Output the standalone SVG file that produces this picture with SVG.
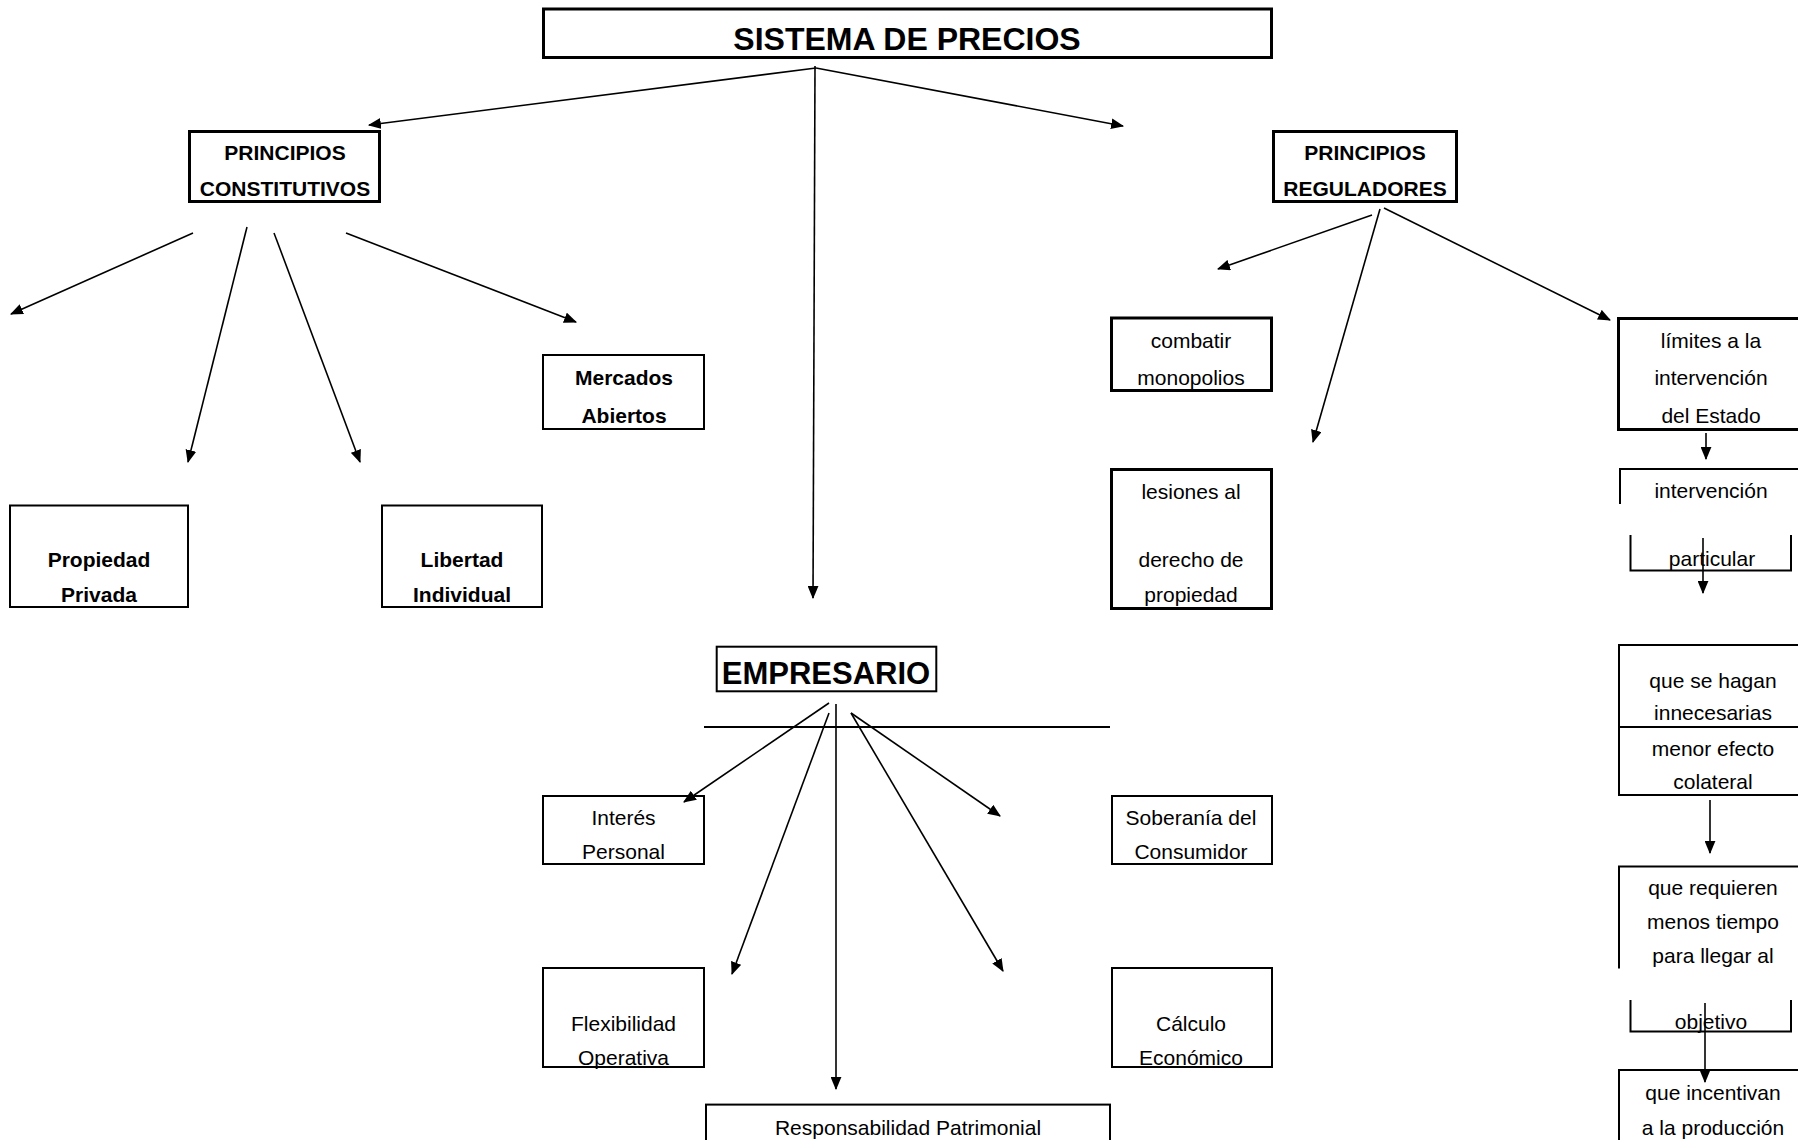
<svg xmlns="http://www.w3.org/2000/svg" width="1798" height="1140" viewBox="0 0 1798 1140">
<style>
.bx{fill:#fff;stroke:#000;stroke-width:2}
.tk{fill:#fff;stroke:#000;stroke-width:3}
.ol{fill:none;stroke:#000;stroke-width:2}
.t{font-family:"Liberation Sans",Arial,sans-serif;font-size:21px;fill:#000;text-anchor:middle}
.b{font-weight:bold}
.cn line{stroke:#000;stroke-width:1.6;marker-end:url(#ah)}
</style>
<defs>
<marker id="ah" viewBox="0 0 12 10" refX="11" refY="5" markerWidth="13" markerHeight="11" markerUnits="userSpaceOnUse" orient="auto">
<path d="M0,0 L12,5 L0,10 z" fill="#000"/>
</marker>
</defs>
<rect width="1798" height="1140" fill="#fff"/>

<line x1="704" y1="727" x2="1110" y2="727" stroke="#000" stroke-width="2"/>

<g id="sistema">
<rect class="tk" x="543.5" y="9" width="728" height="48.5" stroke-width="3.3"/>
<text class="t b" x="907" y="49.5" style="font-size:32px">SISTEMA DE PRECIOS</text>
</g>

<g id="principios-constitutivos">
<rect class="tk" x="189.5" y="131.5" width="190" height="70"/>
<text class="t b" x="285" y="160">PRINCIPIOS</text>
<text class="t b" x="285" y="196">CONSTITUTIVOS</text>
</g>

<g id="principios-reguladores">
<rect class="tk" x="1273.5" y="131.5" width="183" height="70"/>
<text class="t b" x="1365" y="160">PRINCIPIOS</text>
<text class="t b" x="1365" y="196">REGULADORES</text>
</g>

<g id="mercados">
<rect class="bx" x="543" y="355" width="161" height="74"/>
<text class="t b" x="624" y="385">Mercados</text>
<text class="t b" x="624" y="423">Abiertos</text>
</g>

<g id="propiedad">
<rect class="bx" x="10" y="505.5" width="178" height="101.5"/>
<text class="t b" x="99" y="567">Propiedad</text>
<text class="t b" x="99" y="602">Privada</text>
</g>

<g id="libertad">
<rect class="bx" x="382" y="505.5" width="160" height="101.5"/>
<text class="t b" x="462" y="567">Libertad</text>
<text class="t b" x="462" y="602">Individual</text>
</g>

<g id="combatir">
<rect class="tk" x="1111.5" y="318" width="160" height="72.5"/>
<text class="t" x="1191" y="348">combatir</text>
<text class="t" x="1191" y="385">monopolios</text>
</g>

<g id="lesiones">
<rect class="tk" x="1111.5" y="469.5" width="160" height="139"/>
<text class="t" x="1191" y="499">lesiones al</text>
<text class="t" x="1191" y="567">derecho de</text>
<text class="t" x="1191" y="602">propiedad</text>
</g>

<g id="limites">
<rect class="tk" x="1618.5" y="318.5" width="200" height="111"/>
<text class="t" x="1711" y="348">límites a la</text>
<text class="t" x="1711" y="385">intervención</text>
<text class="t" x="1711" y="423">del Estado</text>
</g>

<g id="intervencion">
<path class="ol" d="M1620,504 V469 H1800"/>
<text class="t" x="1711" y="498">intervención</text>
</g>

<g id="particular">
<path class="ol" d="M1630.5,535 V570.5 H1791 V535"/>
<text class="t" x="1712" y="566">particular</text>
</g>

<g id="innecesarias">
<rect class="bx" x="1619" y="645" width="200" height="150"/>
<line x1="1619" y1="727" x2="1800" y2="727" stroke="#000" stroke-width="2"/>
<text class="t" x="1713" y="688">que se hagan</text>
<text class="t" x="1713" y="720">innecesarias</text>
<text class="t" x="1713" y="756">menor efecto</text>
<text class="t" x="1713" y="789">colateral</text>
</g>

<g id="requieren">
<path class="ol" d="M1619,968.5 V866.5 H1800"/>
<text class="t" x="1713" y="895">que requieren</text>
<text class="t" x="1713" y="929">menos tiempo</text>
<text class="t" x="1713" y="963">para llegar al</text>
</g>

<g id="objetivo">
<path class="ol" d="M1630.5,1000 V1031.5 H1791 V1000"/>
<text class="t" x="1711" y="1029">objetivo</text>
</g>

<g id="incentivan">
<path class="ol" d="M1619,1145 V1070 H1800"/>
<text class="t" x="1713" y="1100">que incentivan</text>
<text class="t" x="1713" y="1135">a la producción</text>
</g>

<g id="empresario">
<rect class="bx" x="716.7" y="646.7" width="219.6" height="44.6"/>
<text class="t b" x="826" y="684" style="font-size:31px">EMPRESARIO</text>
</g>

<g id="interes">
<rect class="bx" x="543" y="796" width="161" height="68"/>
<text class="t" x="623.5" y="825">Interés</text>
<text class="t" x="623.5" y="859">Personal</text>
</g>

<g id="soberania">
<rect class="bx" x="1112" y="796" width="160" height="68"/>
<text class="t" x="1191" y="825">Soberanía del</text>
<text class="t" x="1191" y="859">Consumidor</text>
</g>

<g id="flexibilidad">
<rect class="bx" x="543" y="968" width="161" height="99"/>
<text class="t" x="623.5" y="1031">Flexibilidad</text>
<text class="t" x="623.5" y="1065">Operativa</text>
</g>

<g id="calculo">
<rect class="bx" x="1112" y="968" width="160" height="99"/>
<text class="t" x="1191" y="1031">Cálculo</text>
<text class="t" x="1191" y="1065">Económico</text>
</g>

<g id="responsabilidad">
<rect class="bx" x="706" y="1104.6" width="404" height="60"/>
<text class="t" x="908" y="1135">Responsabilidad Patrimonial</text>
</g>

<g id="connectors" class="cn">
<line x1="816" y1="68" x2="369" y2="125"/>
<line x1="816" y1="68" x2="1123" y2="126"/>
<line x1="815" y1="66" x2="813" y2="598"/>
<line x1="193" y1="233" x2="11" y2="314"/>
<line x1="247" y1="227" x2="188" y2="462"/>
<line x1="274" y1="233" x2="360" y2="462"/>
<line x1="346" y1="233" x2="576" y2="322"/>
<line x1="1372" y1="215" x2="1218" y2="269"/>
<line x1="1380" y1="209" x2="1313" y2="442"/>
<line x1="1384" y1="208" x2="1610" y2="320"/>
<line x1="1706" y1="433" x2="1706" y2="459"/>
<line x1="1703" y1="538" x2="1703" y2="593"/>
<line x1="1710" y1="800" x2="1710" y2="853"/>
<line x1="1705" y1="1003" x2="1705" y2="1082"/>
<line x1="829" y1="703" x2="684" y2="802"/>
<line x1="829" y1="713" x2="732" y2="974"/>
<line x1="836" y1="704" x2="836" y2="1089"/>
<line x1="851" y1="713" x2="1003" y2="971"/>
<line x1="851" y1="713" x2="1000" y2="816"/>
</g>
</svg>
